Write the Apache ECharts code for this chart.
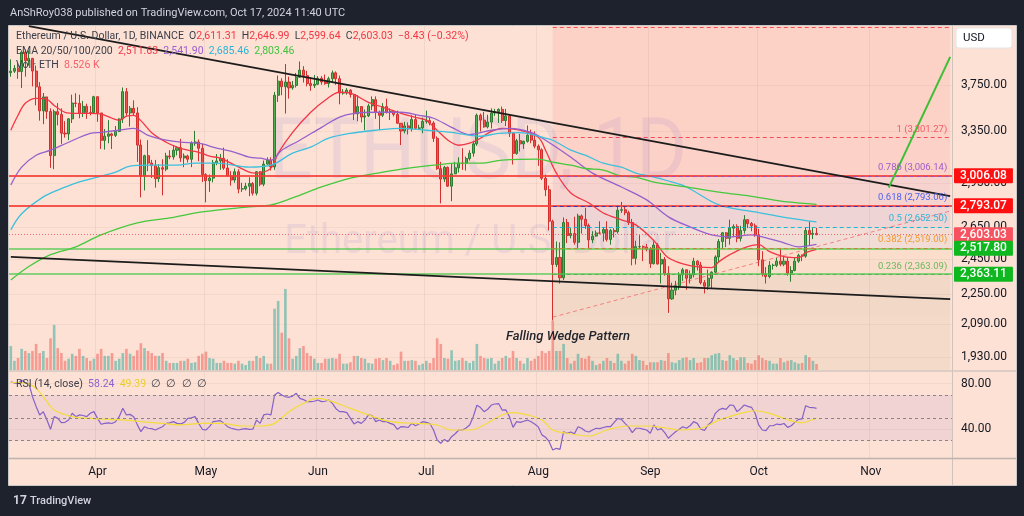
<!DOCTYPE html>
<html><head><meta charset="utf-8">
<script src="https://cdn.jsdelivr.net/npm/echarts/dist/echarts.min.js"></script>
<style>html,body{margin:0;padding:0;background:#1e222d;}#c{width:1024px;height:516px;}</style>
</head><body><div id="c"></div>
<script>
// ---------- DATA ----------
const startDate = '2024-03-08';
const dayCount = 261; // Mar 8 .. Nov 23 (chart extends right of last candle)
// daily [open, high, low, close]  Mar 8 .. Oct 17
const ohlc = [
[3868,3995,3830,3882],[3882,3940,3865,3908],[3908,3960,3810,3878],[3878,4085,3725,4067],[4067,4093,3830,3982],[3982,4083,3935,4005],[4005,4010,3740,3883],[3883,3935,3570,3736],[3736,3780,3440,3523],[3523,3680,3410,3645],[3645,3645,3455,3518],[3518,3545,3065,3158],[3158,3535,3055,3516],[3516,3590,3400,3492],[3492,3545,3250,3336],[3336,3435,3300,3330],[3330,3460,3280,3455],[3455,3665,3420,3591],[3591,3678,3555,3588],[3588,3665,3460,3500],[3500,3610,3470,3562],[3562,3585,3455,3510],[3510,3565,3485,3508],[3508,3655,3505,3647],
[3647,3650,3430,3505],[3505,3505,3210,3278],[3278,3370,3205,3311],[3311,3444,3255,3330],[3330,3340,3210,3318],[3318,3395,3305,3350],[3350,3460,3345,3454],[3454,3730,3420,3692],[3692,3725,3480,3505],[3505,3565,3390,3545],[3545,3615,3480,3505],[3505,3555,3110,3240],[3240,3285,2852,3007],[3007,3165,2900,3157],[3157,3280,3040,3101],[3101,3125,2990,3084],[3084,3125,2920,2985],[2985,3093,2960,3066],[3066,3130,2866,3055],[3055,3180,3040,3155],[3155,3200,3130,3148],[3148,3240,3127,3200],[3200,3230,3160,3220],[3220,3290,3110,3140],[3140,3175,3070,3155],[3155,3165,3105,3130],[3130,3270,3070,3255],[3255,3355,3235,3265],[3265,3285,3115,3215],[3215,3250,2960,3015],
[3015,3025,2817,2970],[2970,3015,2890,2989],[2989,3125,2958,3103],[3103,3170,3085,3117],[3117,3170,3050,3137],[3137,3220,3050,3063],[3063,3130,3000,3006],[3006,3040,2935,2975],[2975,3060,2955,3036],[3036,3055,2880,2910],[2910,2955,2890,2912],[2912,2955,2900,2930],[2930,2995,2860,2950],[2950,2960,2865,2881],[2881,3040,2865,3036],[3036,3040,2930,2945],[2945,3120,2930,3093],[3093,3145,3090,3123],[3123,3145,3045,3072],[3072,3690,3050,3660],[3660,3840,3600,3788],[3788,3815,3660,3737],[3737,3950,3500,3780],[3780,3830,3630,3727],[3727,3790,3710,3749],[3749,3865,3730,3825],[3825,3975,3820,3892],[3892,3930,3775,3840],[3840,3885,3740,3766],[3766,3825,3700,3747],[3747,3845,3725,3760],
[3760,3835,3752,3815],[3815,3835,3755,3781],[3781,3850,3755,3766],[3766,3830,3730,3811],[3811,3888,3775,3866],[3866,3880,3755,3811],[3811,3840,3580,3680],[3680,3715,3665,3683],[3683,3725,3665,3706],[3706,3715,3640,3667],[3667,3670,3445,3498],[3498,3660,3435,3560],[3560,3565,3425,3470],[3470,3535,3360,3480],[3480,3585,3470,3566],[3566,3650,3530,3621],[3621,3650,3455,3510],[3510,3525,3360,3485],[3485,3590,3470,3560],[3560,3630,3500,3514],[3514,3545,3445,3518],[3518,3525,3475,3493],[3493,3525,3415,3418],[3418,3420,3240,3354],[3354,3430,3335,3396],[3396,3425,3325,3371],[3371,3485,3350,3449],[3449,3490,3370,3376],[3376,3405,3365,3379],[3379,3465,3335,3433],
[3433,3525,3415,3440],[3440,3465,3400,3420],[3420,3435,3265,3294],[3294,3310,3050,3059],[3059,3110,2810,2982],[2982,3080,2960,3069],[3069,3075,2925,2931],[2931,3095,2825,3020],[3020,3110,3020,3065],[3065,3145,3030,3101],[3101,3215,3050,3100],[3100,3150,3045,3135],[3135,3200,3120,3177],[3177,3275,3150,3250],[3250,3500,3235,3485],[3485,3500,3350,3444],[3444,3515,3380,3388],[3388,3490,3375,3428],[3428,3545,3375,3505],[3505,3540,3480,3516],[3516,3545,3420,3535],[3535,3560,3420,3440],[3440,3540,3395,3480],[3480,3490,3305,3335],[3335,3340,3090,3175],[3175,3290,3165,3275],[3275,3330,3190,3250],[3250,3275,3210,3270],[3270,3400,3260,3320],[3320,3365,3255,3280],[3280,3350,3215,3232],
[3232,3245,3080,3203],[3203,3215,2975,2988],[2988,3015,2860,2905],[2905,2935,2630,2690],[2690,2700,2111,2420],[2420,2560,2405,2462],[2462,2555,2310,2343],[2343,2715,2330,2682],[2682,2705,2550,2598],[2598,2645,2580,2610],[2610,2720,2540,2555],[2555,2740,2520,2725],[2725,2735,2610,2703],[2703,2780,2640,2662],[2662,2675,2520,2570],[2570,2625,2550,2594],[2594,2630,2590,2614],[2614,2690,2605,2613],[2613,2650,2560,2636],[2636,2690,2560,2573],[2573,2640,2540,2630],[2630,2645,2585,2622],[2622,2795,2610,2763],[2763,2820,2745,2767],[2767,2790,2730,2747],[2747,2760,2665,2682],[2682,2705,2415,2457],[2457,2565,2420,2528],[2528,2600,2515,2528],[2528,2535,2440,2525],[2525,2545,2500,2513],
[2513,2525,2400,2425],[2425,2560,2420,2538],[2538,2550,2420,2423],[2423,2490,2310,2450],[2450,2465,2355,2368],[2368,2410,2150,2225],[2225,2315,2220,2273],[2273,2325,2245,2298],[2298,2375,2275,2360],[2360,2400,2325,2389],[2389,2390,2275,2340],[2340,2385,2310,2360],[2360,2460,2345,2440],[2440,2445,2385,2417],[2417,2435,2305,2315],[2315,2330,2255,2295],[2295,2390,2275,2340],[2340,2380,2280,2375],[2375,2475,2370,2465],[2465,2575,2430,2560],[2560,2620,2520,2615],[2615,2620,2525,2580],[2580,2700,2540,2645],[2645,2670,2590,2655],[2655,2670,2555,2580],[2580,2660,2560,2630],[2630,2730,2610,2700],[2700,2705,2645,2675],[2675,2685,2625,2660],[2660,2675,2590,2600],
[2600,2640,2410,2448],[2448,2500,2350,2365],[2365,2405,2310,2350],[2350,2440,2340,2415],[2415,2425,2390,2415],[2415,2460,2405,2440],[2440,2520,2410,2422],[2422,2465,2410,2440],[2440,2465,2355,2370],[2370,2410,2320,2385],[2385,2460,2380,2440],[2440,2485,2430,2475],[2475,2480,2440,2470],[2470,2650,2460,2630],[2630,2690,2535,2605],[2605,2645,2575,2611],[2611.31,2646.99,2599.64,2603.03]
];
// daily volume (K ETH)
const volumes = [
34,13,17,30,27,24,27,37,24,27,17,45,64,31,24,13,16,23,20,30,20,17,13,16,
23,30,20,20,24,13,16,24,30,23,20,28,38,31,27,24,20,20,24,13,10,10,10,13,13,16,10,11,20,23,
26,17,16,10,10,13,10,10,9,13,9,7,13,13,20,17,20,9,9,87,98,53,115,45,16,20,31,34,24,20,16,
10,10,16,16,17,16,23,9,9,11,20,20,17,16,10,9,16,17,14,17,13,7,9,26,13,13,14,13,7,9,
13,10,17,45,37,17,16,28,13,14,17,13,10,13,37,20,17,16,17,9,13,17,20,17,27,17,13,9,17,13,16,
20,27,24,27,70,27,27,37,17,9,13,23,17,16,20,13,7,9,13,17,13,10,23,13,9,13,23,20,14,13,7,
11,11,11,14,13,24,11,10,14,17,18,14,17,10,11,17,17,21,23,24,14,13,21,17,14,18,18,10,9,14,
21,17,14,13,9,9,17,11,13,14,11,9,10,21,18,13,8.526
];
const ema20 = [['2024-03-08',3360],['2024-03-10',3485],['2024-03-12',3589],['2024-03-15',3633],['2024-03-18',3624],['2024-03-20',3570],['2024-03-23',3511],['2024-03-26',3502],['2024-03-30',3502],['2024-04-02',3495],['2024-04-05',3460],['2024-04-07',3443],['2024-04-09',3477],['2024-04-11',3485],['2024-04-13',3440],['2024-04-16',3340],['2024-04-20',3263],['2024-04-23',3224],['2024-04-26',3200],['2024-04-29',3184],['2024-05-02',3154],['2024-05-05',3138],['2024-05-09',3085],['2024-05-13',3033],['2024-05-15',3026],['2024-05-19',3063],['2024-05-21',3177],['2024-05-25',3343],['2024-05-30',3511],['2024-06-03',3616],['2024-06-07',3687],['2024-06-10',3678],['2024-06-15',3597],['2024-06-19',3554],['2024-06-24',3502],['2024-06-29',3460],['2024-07-01',3443],['2024-07-04',3360],['2024-07-07',3279],['2024-07-10',3239],['2024-07-13',3255],['2024-07-16',3295],['2024-07-18',3335],['2024-07-22',3376],['2024-07-27',3360],['2024-08-01',3303],['2024-08-03',3200],['2024-08-06',3026],['2024-08-10',2882],['2024-08-15',2813],['2024-08-19',2745],['2024-08-24',2699],['2024-08-28',2666],['2024-09-02',2565],['2024-09-06',2460],['2024-09-12',2413],['2024-09-18',2402],['2024-09-20',2437],['2024-09-23',2479],['2024-09-27',2521],['2024-10-01',2540],['2024-10-04',2497],['2024-10-08',2467],['2024-10-12',2461],['2024-10-14',2491],['2024-10-17',2511.63]];
const ema50 = [['2024-03-08',2939],['2024-03-11',3070],['2024-03-15',3161],['2024-03-19',3200],['2024-03-24',3263],['2024-03-30',3335],['2024-04-02',3343],['2024-04-07',3360],['2024-04-11',3376],['2024-04-15',3319],['2024-04-20',3279],['2024-04-24',3263],['2024-04-29',3255],['2024-05-04',3216],['2024-05-09',3184],['2024-05-13',3146],['2024-05-16',3138],['2024-05-19',3123],['2024-05-22',3200],['2024-05-27',3279],['2024-06-02',3384],['2024-06-07',3470],['2024-06-11',3502],['2024-06-17',3511],['2024-06-24',3511],['2024-06-29',3485],['2024-07-03',3460],['2024-07-08',3384],['2024-07-13',3325],['2024-07-19',3360],['2024-07-24',3376],['2024-07-30',3343],['2024-08-03',3279],['2024-08-10',3146],['2024-08-16',3026],['2024-08-24',2925],['2024-08-31',2834],['2024-09-06',2719],['2024-09-12',2653],['2024-09-18',2602],['2024-09-23',2589],['2024-09-29',2602],['2024-10-02',2589],['2024-10-08',2552],['2024-10-12',2527],['2024-10-17',2541.9]];
const ema100 = [['2024-03-08',2634],['2024-03-11',2740],['2024-03-17',2855],['2024-03-21',2903],['2024-03-26',2953],['2024-04-01',2997],['2024-04-06',3033],['2024-04-10',3078],['2024-04-15',3085],['2024-04-23',3085],['2024-04-28',3100],['2024-05-04',3100],['2024-05-13',3070],['2024-05-19',3085],['2024-05-25',3177],['2024-05-30',3224],['2024-06-04',3295],['2024-06-10',3335],['2024-06-17',3360],['2024-06-24',3376],['2024-07-01',3360],['2024-07-08',3343],['2024-07-16',3311],['2024-07-21',3335],['2024-07-27',3340],['2024-08-02',3303],['2024-08-05',3279],['2024-08-10',3200],['2024-08-14',3161],['2024-08-19',3100],['2024-08-24',3070],['2024-08-28',3026],['2024-09-02',2997],['2024-09-06',2968],['2024-09-11',2925],['2024-09-20',2799],['2024-09-30',2752],['2024-10-09',2712],['2024-10-17',2685.46]];
const ema200 = [['2024-03-08',2330],['2024-03-13',2408],['2024-03-19',2479],['2024-03-26',2527],['2024-04-02',2602],['2024-04-12',2679],['2024-04-21',2712],['2024-04-30',2752],['2024-05-13',2786],['2024-05-19',2799],['2024-05-25',2848],['2024-06-02',2925],['2024-06-10',2989],['2024-06-19',3033],['2024-06-26',3063],['2024-07-03',3085],['2024-07-10',3100],['2024-07-16',3100],['2024-07-22',3123],['2024-08-01',3131],['2024-08-05',3108],['2024-08-10',3085],['2024-08-14',3060],['2024-08-19',3048],['2024-08-24',3004],['2024-08-28',2997],['2024-09-02',2960],['2024-09-11',2925],['2024-09-20',2889],['2024-09-30',2855],['2024-10-09',2820],['2024-10-17',2803.46]];
const rsi = [['2024-03-08',81.5],['2024-03-09',80.5],['2024-03-10',80],['2024-03-11',83],['2024-03-12',81],['2024-03-13',80],['2024-03-14',68.5],['2024-03-15',60],['2024-03-16',52.5],['2024-03-17',55.4],['2024-03-18',48],['2024-03-19',39.9],['2024-03-20',51],['2024-03-21',49.5],['2024-03-22',45.7],['2024-03-23',46],['2024-03-24',48],['2024-03-25',54],['2024-03-26',51],['2024-03-27',52.5],['2024-03-28',52],['2024-03-29',51],['2024-03-30',54],['2024-03-31',55.4],
['2024-04-01',49.5],['2024-04-02',44.3],['2024-04-03',45.1],['2024-04-04',45.5],['2024-04-05',45],['2024-04-06',46.6],['2024-04-07',51],['2024-04-08',58.3],['2024-04-09',52.5],['2024-04-10',53],['2024-04-11',51],['2024-04-12',44],['2024-04-13',37.8],['2024-04-14',42.2],['2024-04-15',40.8],['2024-04-16',40.5],['2024-04-17',39.3],['2024-04-18',40.8],['2024-04-19',42.2],['2024-04-20',45.1],['2024-04-21',45.5],['2024-04-22',46.6],['2024-04-23',45.1],['2024-04-24',44.6],['2024-04-25',46],['2024-04-26',49.5],['2024-04-27',50],['2024-04-28',51],['2024-04-29',45.1],['2024-04-30',39.9],
['2024-05-01',39.3],['2024-05-02',42.2],['2024-05-03',46.6],['2024-05-04',47],['2024-05-05',47.5],['2024-05-06',45.1],['2024-05-07',42.2],['2024-05-08',40.8],['2024-05-09',40],['2024-05-10',39.3],['2024-05-11',40],['2024-05-12',40.5],['2024-05-13',39.9],['2024-05-14',40],['2024-05-15',48],['2024-05-16',45.1],['2024-05-17',52.5],['2024-05-18',53.3],['2024-05-19',52.5],['2024-05-20',70],['2024-05-21',72.1],['2024-05-22',70],['2024-05-23',68.5],['2024-05-24',68],['2024-05-25',69],['2024-05-26',71.5],['2024-05-27',67],['2024-05-28',66],['2024-05-29',64.2],['2024-05-30',64.2],['2024-05-31',64.5],
['2024-06-01',65.6],['2024-06-02',64.2],['2024-06-03',64.5],['2024-06-04',65.6],['2024-06-05',62.7],['2024-06-06',58],['2024-06-07',55.4],['2024-06-08',55.4],['2024-06-09',54.5],['2024-06-10',49.5],['2024-06-11',44.6],['2024-06-12',46.6],['2024-06-13',45.1],['2024-06-14',48],['2024-06-15',52.5],['2024-06-16',52],['2024-06-17',46.6],['2024-06-18',48],['2024-06-19',46.6],['2024-06-20',46.6],['2024-06-21',45.1],['2024-06-22',44],['2024-06-23',39.9],['2024-06-24',42.2],['2024-06-25',42],['2024-06-26',41.5],['2024-06-27',45.1],['2024-06-28',43],['2024-06-29',44.5],['2024-06-30',46.6],
['2024-07-01',46],['2024-07-02',45],['2024-07-03',39.3],['2024-07-04',30.5],['2024-07-05',27.6],['2024-07-06',31],['2024-07-07',29],['2024-07-08',33.4],['2024-07-09',36],['2024-07-10',39.3],['2024-07-11',39.3],['2024-07-12',41],['2024-07-13',43.7],['2024-07-14',51],['2024-07-15',61],['2024-07-16',59],['2024-07-17',55.4],['2024-07-18',57.5],['2024-07-19',61.2],['2024-07-20',62.1],['2024-07-21',62.5],['2024-07-22',56.8],['2024-07-23',57],['2024-07-24',51],['2024-07-25',41.6],['2024-07-26',46.6],['2024-07-27',46],['2024-07-28',47],['2024-07-29',48],['2024-07-30',46.5],['2024-07-31',44.6],
['2024-08-01',42],['2024-08-02',35],['2024-08-03',33],['2024-08-04',29],['2024-08-05',21.7],['2024-08-06',23.2],['2024-08-07',22.3],['2024-08-08',37.8],['2024-08-09',36.4],['2024-08-10',37.5],['2024-08-11',36],['2024-08-12',42.2],['2024-08-13',40.8],['2024-08-14',38.4],['2024-08-15',37.5],['2024-08-16',39.3],['2024-08-17',40.8],['2024-08-18',40.5],['2024-08-19',41.5],['2024-08-20',42.2],['2024-08-21',42.2],['2024-08-22',46],['2024-08-23',49.5],['2024-08-24',48.6],['2024-08-25',45.1],['2024-08-26',42],['2024-08-27',37],['2024-08-28',40.8],['2024-08-29',40.8],['2024-08-30',40],['2024-08-31',39.3],
['2024-09-01',36.4],['2024-09-02',43.7],['2024-09-03',39.3],['2024-09-04',40.5],['2024-09-05',37],['2024-09-06',32],['2024-09-07',35],['2024-09-08',37.8],['2024-09-09',40],['2024-09-10',42.2],['2024-09-11',40.8],['2024-09-12',43],['2024-09-13',46.6],['2024-09-14',45.1],['2024-09-15',39.9],['2024-09-16',39],['2024-09-17',43.7],['2024-09-18',46.6],['2024-09-19',53.9],['2024-09-20',57],['2024-09-21',58.3],['2024-09-22',57.4],['2024-09-23',61.2],['2024-09-24',61],['2024-09-25',55.4],['2024-09-26',58],['2024-09-27',61.2],['2024-09-28',60],['2024-09-29',59.2],['2024-09-30',54],
['2024-10-01',43.7],['2024-10-02',39.3],['2024-10-03',38.8],['2024-10-04',43],['2024-10-05',43],['2024-10-06',44.5],['2024-10-07',44],['2024-10-08',45],['2024-10-09',41.6],['2024-10-10',43],['2024-10-11',46],['2024-10-12',48.6],['2024-10-13',49],['2024-10-14',60.6],['2024-10-15',59.2],['2024-10-16',59],['2024-10-17',58.24]];
const rsiMa = [['2024-03-08',81],['2024-03-12',80.5],['2024-03-15',75.8],['2024-03-18',64.2],['2024-03-20',56.8],['2024-03-25',51],['2024-03-30',49.5],['2024-04-04',48.6],['2024-04-09',48],['2024-04-13',46.6],['2024-04-19',45.1],['2024-04-24',43.7],['2024-04-30',45.1],['2024-05-05',45.1],['2024-05-11',42.8],['2024-05-16',42.8],['2024-05-20',45.1],['2024-05-24',55.4],['2024-05-28',62.7],['2024-06-01',67],['2024-06-05',64.2],['2024-06-10',58.3],['2024-06-15',52.5],['2024-06-21',46.6],['2024-06-28',45.1],['2024-07-04',43.7],['2024-07-08',39.3],['2024-07-13',39.3],['2024-07-17',43.7],['2024-07-22',52.5],['2024-07-25',54.5],['2024-07-29',52.5],['2024-08-02',48],['2024-08-05',39.3],['2024-08-09',36.4],['2024-08-15',34],['2024-08-20',39.3],['2024-08-26',42.8],['2024-08-31',42.8],['2024-09-06',40.8],['2024-09-09',39.3],['2024-09-15',40.8],['2024-09-20',48],['2024-09-26',53.9],['2024-09-30',56.2],['2024-10-04',53.9],['2024-10-08',49.5],['2024-10-13',45.7],['2024-10-16',48.5],['2024-10-17',49.39]];
const priceTicks = [1930, 2090, 2250, 2450, 2650, 2950, 3350, 3750];
const rsiTicks = [40, 80];
const hLevels = [3006.08, 2793.07, 2603.03, 2517.80, 2363.11];
const fibRatios = ['1.618', '1', '0.786', '0.618', '0.5', '0.382', '0.236', '0'];
const fibPrices = [4320.0, 3301.27, 3006.14, 2793.06, 2652.50, 2519.00, 2363.09, 2131.2];
const fibStart = '2024-08-05', fibEnd = '2024-11-23';
const upperWedge = [['2024-03-13', 4334], ['2024-11-23', 2860]];
const lowerWedge = [['2024-03-08', 2465], ['2024-11-23', 2224]];
const fibTrend = [['2024-08-05', 2128], ['2024-11-23', 2758]];
const breakoutLine = [['2024-11-06', 2920], ['2024-11-23', 4020]];

// ---------- BUILD ----------
const dates = [];
{ const d = new Date(startDate + 'T00:00:00Z'); for (let i = 0; i < dayCount; i++) { dates.push(d.toISOString().slice(0, 10)); d.setUTCDate(d.getUTCDate() + 1); } }
const MONTHS = ['Jan','Feb','Mar','Apr','May','Jun','Jul','Aug','Sep','Oct','Nov','Dec'];
const isMonthStart = (i, v) => v.slice(8) === '01';
const fmt = n => n.toLocaleString('en-US', {minimumFractionDigits: 2, maximumFractionDigits: 2});
const FONT = 'Roboto, "Noto Sans", sans-serif';

const candleData = ohlc.map(r => [r[0], r[3], r[2], r[1]]);
const volData = volumes.map((v, i) => ({value: v, itemStyle: {color: ohlc[i][3] >= ohlc[i][0] ? 'rgba(38,166,154,0.5)' : 'rgba(239,83,80,0.5)'}}));

const hStyles = [
  {line: 'rgba(244,60,54,0.85)', w: 1.8, type: 'solid', badge: '#ff1010'},
  {line: 'rgba(244,60,54,0.85)', w: 1.8, type: 'solid', badge: '#ff1010'},
  {line: 'rgba(242,54,69,0.7)', w: 1, type: [1, 2], badge: '#f7525f'},
  {line: 'rgba(70,200,70,0.85)', w: 1.5, type: 'solid', badge: '#10b820'},
  {line: 'rgba(70,200,70,0.85)', w: 1.5, type: 'solid', badge: '#10b820'}
];
const fibLineColors = ['rgba(242,54,69,0.85)', 'rgba(242,54,69,0.85)', 'rgba(156,80,200,0.85)', 'rgba(40,50,190,0.85)', 'rgba(0,180,215,0.9)', 'rgba(200,130,40,0.9)', 'rgba(76,175,80,0.8)', 'rgba(120,120,120,0)'];
const fibLabelColors = ['#f7525f', '#f25a68', '#a05cc8', '#4a62f0', '#2cb6d6', '#f09a30', '#6cb860', '#888'];
const fibZoneColors = ['rgba(242,70,80,0.10)', 'rgba(242,70,90,0.10)', 'rgba(190,80,170,0.09)', 'rgba(110,100,230,0.10)', 'rgba(90,170,230,0.07)', 'rgba(220,180,90,0.08)', 'rgba(150,150,90,0.10)'];

const markLines = [];
hLevels.forEach((p, i) => {
  const s = hStyles[i];
  markLines.push({yAxis: p, lineStyle: {color: s.line, width: s.w, type: s.type},
    label: {show: true, position: 'end', distance: 2, formatter: fmt(p), color: '#fff', backgroundColor: s.badge,
      fontFamily: FONT, fontSize: 12, fontWeight: 500, lineHeight: 12, padding: [2, 6, 1, 6], borderRadius: 1}});
});
fibPrices.forEach((p, i) => {
  if (i === fibPrices.length - 1) return;
  const showLabel = i > 0;
  markLines.push([
    {coord: [fibStart, p], lineStyle: {color: fibLineColors[i], width: 1, type: [4, 3]},
     label: {show: showLabel, position: 'insideEndTop', distance: 3, formatter: fibRatios[i] + ' (' + fmt(p) + ')', color: fibLabelColors[i], fontFamily: FONT, fontSize: 9.5}},
    {coord: [fibEnd, p]}
  ]);
});
const seg = (pts, style) => [{coord: pts[0], lineStyle: style, label: {show: false}}, {coord: pts[1]}];
markLines.push(seg(upperWedge, {color: '#1c1c1c', width: 1.8, type: 'solid'}));
markLines.push(seg(lowerWedge, {color: '#1c1c1c', width: 1.8, type: 'solid'}));
markLines.push(seg(fibTrend, {color: 'rgba(242,54,69,0.55)', width: 1, type: [4, 3]}));
markLines.push(seg(breakoutLine, {color: '#3cbf35', width: 2, type: 'solid'}));

const markAreas = [];
for (let i = 0; i < fibPrices.length - 1; i++) {
  markAreas.push([{coord: [fibStart, fibPrices[i + 1]], itemStyle: {color: fibZoneColors[i]}}, {coord: [fibEnd, i === 0 ? 4335 : fibPrices[i]]}]);
}
markAreas.push([{coord: [fibStart, 1870], itemStyle: {color: 'rgba(150,150,90,0.09)'}}, {coord: [fibEnd, fibPrices[fibPrices.length - 1]]}]);

const txt = (x, y, text, extra) => Object.assign({type: 'text', x: x, y: y, z: 20, silent: true,
  style: Object.assign({text: text, fill: '#131722', font: '10.5px ' + FONT, textAlign: 'left', textVerticalAlign: 'middle'}, extra || {})});

const graphic = [
  {type: 'rect', z: -10, silent: true, shape: {x: 8.5, y: 25.5, width: 1008, height: 460}, style: {fill: '#fde1d4', stroke: '#c8c8c8', lineWidth: 1}},
  {type: 'line', z: 15, silent: true, shape: {x1: 952.5, y1: 26, x2: 952.5, y2: 485}, style: {stroke: '#cfc3bc', lineWidth: 1}},
  {type: 'line', z: 15, silent: true, shape: {x1: 9, y1: 371, x2: 1016, y2: 371}, style: {stroke: '#d2c6bf', lineWidth: 1.5}},
  {type: 'line', z: 15, silent: true, shape: {x1: 9, y1: 458.5, x2: 1016, y2: 458.5}, style: {stroke: '#bdb3ad', lineWidth: 1.5}},
  {type: 'text', z: -5, silent: true, x: 478, y: 156, scaleX: 0.9, style: {text: 'ETHUSD, 1D', fill: 'rgba(120,100,220,0.11)', font: '86px ' + FONT, textAlign: 'center', textVerticalAlign: 'middle'}},
  {type: 'text', z: -5, silent: true, x: 480, y: 243, style: {text: 'Ethereum / U.S. Dollar', fill: 'rgba(120,100,220,0.11)', font: '40px ' + FONT, textAlign: 'center', textVerticalAlign: 'middle'}},
  txt(10, 13, 'AnShRoy038 published on TradingView.com, Oct 17, 2024 11:40 UTC', {fill: '#d1d4dc', font: '11px ' + FONT}),
  txt(16, 36, '{d|Ethereum / U.S. Dollar, 1D, BINANCE}  {d|O}{r|2,611.31}  {d|H}{r|2,646.99}  {d|L}{r|2,599.64}  {d|C}{r|2,603.03}  {r|\u22128.43 (\u22120.32%)}', {
    rich: {d: {fill: '#3a3e4a', font: '10.5px ' + FONT}, r: {fill: '#f23645', font: '10.5px ' + FONT}}}),
  txt(16, 51, '{d|EMA 20/50/100/200}  {a|2,511.63}  {b|2,541.90}  {c|2,685.46}  {e|2,803.46}', {
    rich: {d: {fill: '#3a3e4a', font: '10.5px ' + FONT}, a: {fill: '#f23645', font: '10.5px ' + FONT}, b: {fill: '#9c5fd0', font: '10.5px ' + FONT}, c: {fill: '#27b4d8', font: '10.5px ' + FONT}, e: {fill: '#3fc43f', font: '10.5px ' + FONT}}}),
  txt(16, 65, '{d|Vol \u00b7 ETH}  {r|8.526 K}', {rich: {d: {fill: '#3a3e4a', font: '10.5px ' + FONT}, r: {fill: '#f5606c', font: '10.5px ' + FONT}}}),
  txt(16, 384, '{d|RSI (14, close)}  {p|58.24}  {y|49.39}  {d|\u2205  \u2205  \u2205  \u2205}', {
    rich: {d: {fill: '#3a3e4a', font: '10.5px ' + FONT}, p: {fill: '#8a62d0', font: '10.5px ' + FONT}, y: {fill: '#e8cf2a', font: '10.5px ' + FONT}}}),
  txt(568, 337, 'Falling Wedge Pattern', {font: 'italic 500 13px ' + FONT, fill: '#22252d', textAlign: 'center'}),
  {type: 'rect', z: 20, silent: true, shape: {x: 956, y: 28, width: 56, height: 20, r: 3}, style: {fill: '#ffffff', stroke: '#e4e4e4'}},
  txt(963, 38, 'USD', {font: '11.5px ' + FONT, fill: '#131722'}),
  txt(13, 501, '17', {font: 'bold 12px ' + FONT, fill: '#d1d4dc'}),
  txt(30, 501, 'TradingView', {font: '500 11px ' + FONT, fill: '#d1d4dc'})
];

const gridLine = {show: true, interval: isMonthStart, lineStyle: {color: 'rgba(140,110,100,0.10)', width: 1}};
const option = {
  backgroundColor: '#1e222d',
  animation: false,
  textStyle: {fontFamily: FONT},
  graphic: graphic,
  grid: [
    {left: 9, right: 72, top: 26, height: 344},
    {left: 9, right: 72, top: 372, height: 86}
  ],
  xAxis: [
    {type: 'category', gridIndex: 0, data: dates, axisLine: {show: false}, axisTick: {show: false}, axisLabel: {show: false}, splitLine: gridLine},
    {type: 'category', gridIndex: 1, data: dates, axisLine: {show: false}, axisTick: {show: false},
      axisLabel: {interval: isMonthStart, formatter: v => MONTHS[+v.slice(5, 7) - 1], color: '#131722', fontSize: 12, margin: 8}, splitLine: gridLine}
  ],
  yAxis: [
    {type: 'log', gridIndex: 0, min: 1870, max: 4335, position: 'right', axisLine: {show: false}, axisTick: {show: false}, axisLabel: {show: false}, splitLine: {show: false}},
    {type: 'value', gridIndex: 0, min: Math.log(1870), max: Math.log(4335), position: 'right', axisLine: {show: false},
      axisTick: {show: false, customValues: priceTicks.map(Math.log)},
      axisLabel: {customValues: priceTicks.map(Math.log), formatter: v => fmt(Math.round(Math.exp(v))), color: '#131722', fontSize: 12, margin: 9},
      splitLine: {show: true, lineStyle: {color: 'rgba(140,110,100,0.08)'}}},
    {type: 'value', gridIndex: 0, min: 0, max: 488, show: false},
    {type: 'value', gridIndex: 1, min: 14.7, max: 90.2, position: 'right', axisLine: {show: false},
      axisTick: {show: false, customValues: rsiTicks},
      axisLabel: {customValues: rsiTicks, formatter: v => v.toFixed(2), color: '#131722', fontSize: 12, margin: 9},
      splitLine: {show: true, lineStyle: {color: 'rgba(140,110,100,0.08)'}}}
  ],
  series: [
    {type: 'bar', name: 'Volume', xAxisIndex: 0, yAxisIndex: 2, data: volData, barWidth: '72%', z: 1, silent: true},
    {type: 'candlestick', name: 'ETHUSD', xAxisIndex: 0, yAxisIndex: 0, data: candleData, barWidth: '70%', z: 3,
      itemStyle: {color: '#4caf50', color0: '#ef5350', borderColor: '#2e7d32', borderColor0: '#d32f2f', borderWidth: 1},
      markArea: {silent: true, data: markAreas},
      markLine: {silent: true, symbol: ['none', 'none'], animation: false, data: markLines}},
    {type: 'line', name: 'EMA20', xAxisIndex: 0, yAxisIndex: 0, data: ema20, smooth: 0.35, showSymbol: false, z: 4, lineStyle: {color: '#f23645', width: 1.3}},
    {type: 'line', name: 'EMA50', xAxisIndex: 0, yAxisIndex: 0, data: ema50, smooth: 0.35, showSymbol: false, z: 4, lineStyle: {color: '#9660cc', width: 1.3}},
    {type: 'line', name: 'EMA100', xAxisIndex: 0, yAxisIndex: 0, data: ema100, smooth: 0.35, showSymbol: false, z: 4, lineStyle: {color: '#3cc0de', width: 1.3}},
    {type: 'line', name: 'EMA200', xAxisIndex: 0, yAxisIndex: 0, data: ema200, smooth: 0.35, showSymbol: false, z: 4, lineStyle: {color: '#44c83c', width: 1.3}},
    {type: 'line', name: 'RSI', xAxisIndex: 1, yAxisIndex: 3, data: rsi, showSymbol: false, z: 4, lineStyle: {color: '#8560c8', width: 1.2},
      markArea: {silent: true, data: [[{yAxis: 30, itemStyle: {color: 'rgba(126,87,194,0.10)'}}, {yAxis: 70}]]},
      markLine: {silent: true, symbol: ['none', 'none'], label: {show: false}, lineStyle: {color: '#8a8585', type: [3, 3], width: 1},
        data: [{yAxis: 70}, {yAxis: 50}, {yAxis: 30}]}},
    {type: 'line', name: 'RSI MA', xAxisIndex: 1, yAxisIndex: 3, data: rsiMa, smooth: 0.4, showSymbol: false, z: 4, lineStyle: {color: '#f4dc3c', width: 1.2}}
  ]
};
const chart = echarts.init(document.getElementById('c'), null, {renderer: 'canvas', width: 1024, height: 516});
chart.setOption(option);
</script></body></html>
